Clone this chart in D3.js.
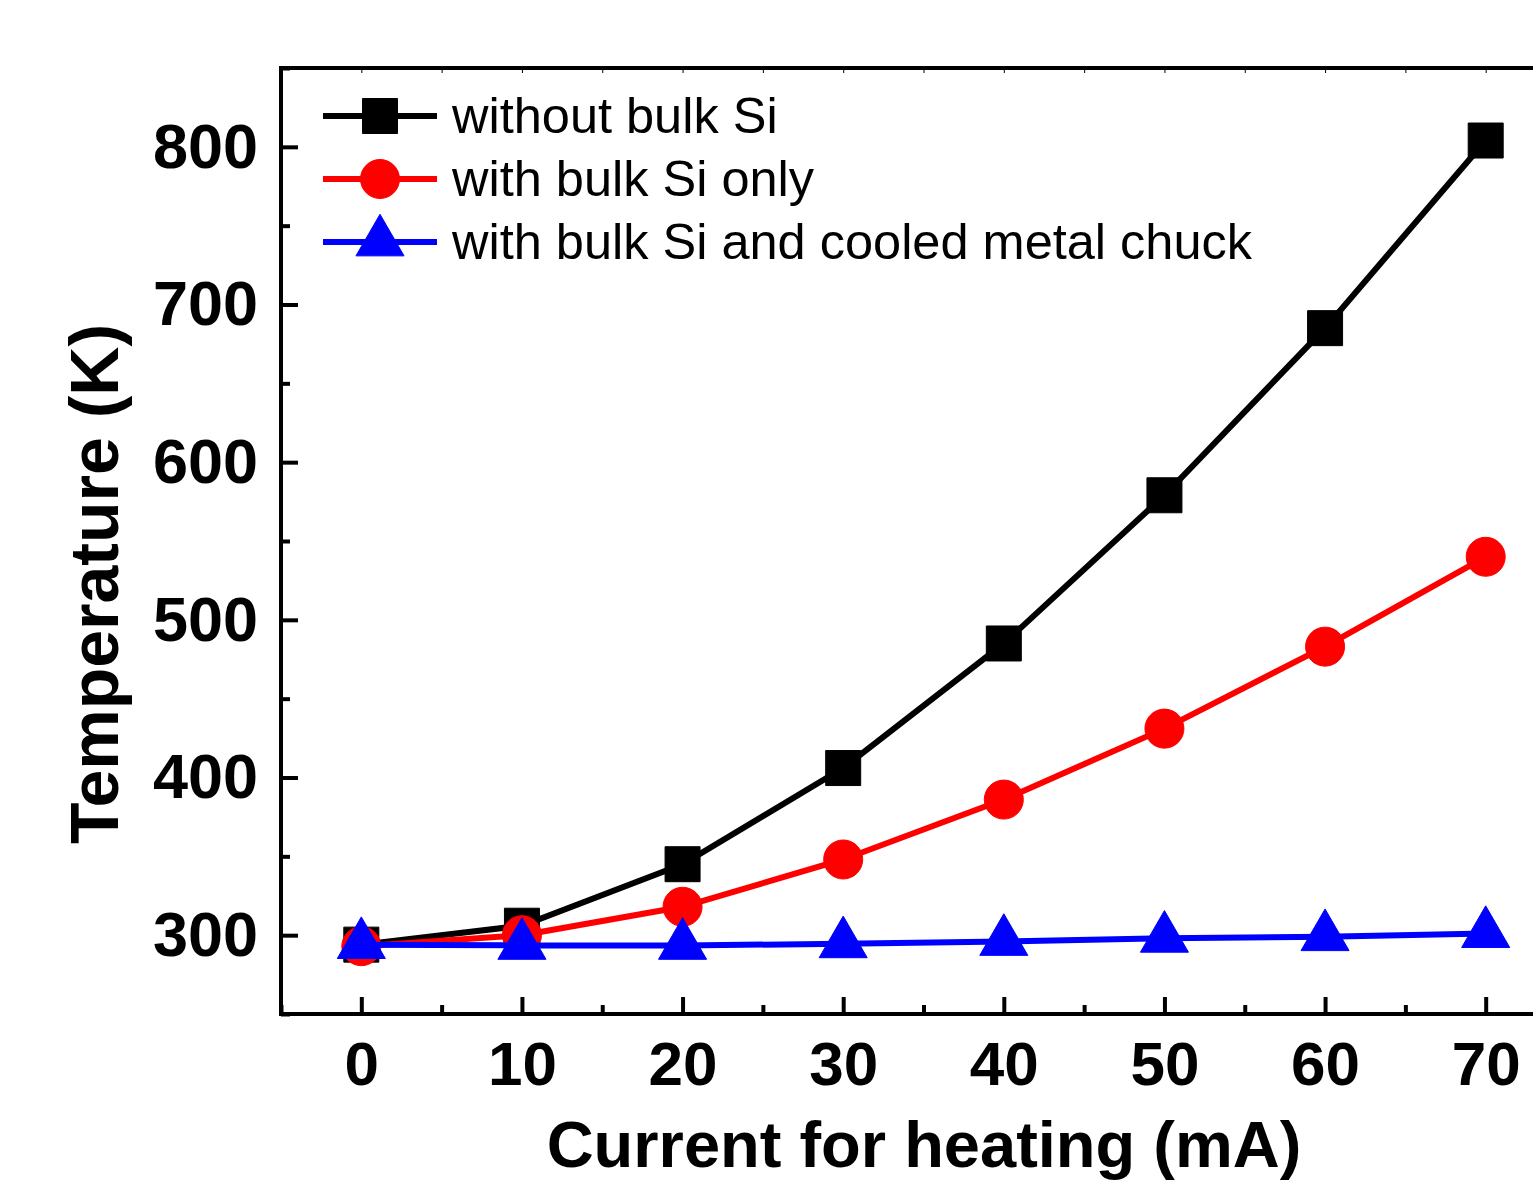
<!DOCTYPE html>
<html>
<head>
<meta charset="utf-8">
<script src="https://cdn.jsdelivr.net/npm/d3@7"></script>
<style>
  body { margin: 0; background: #fff; }
  text { font-family: "Liberation Sans", Arial, sans-serif; }
</style>
</head>
<body>
<div id="chart"></div>
<script>
// data
var current = [0, 10, 20, 30, 40, 50, 60, 70];
var withoutSi = [294, 306, 345, 406, 485, 579, 685, 804];
var withSiOnly = [293, 300, 318, 348, 386, 431, 483, 540];
var withSiChuck = [294, 293.5, 293.5, 294.5, 296, 298, 299, 301];

var xTicks = [0, 10, 20, 30, 40, 50, 60, 70];
var yTicks = [300, 400, 500, 600, 700, 800];

var seriesNames = ["without bulk Si", "with bulk Si only", "with bulk Si and cooled metal chuck"];
var seriesColors = ["#000000", "#ff0000", "#0000ff"];

var width = 1533, height = 1181;
var svg = d3.select("#chart").append("svg")
    .attr("width", width)
    .attr("height", height);

var x = d3.scaleLinear().domain([-5, 75]).range([281, 1566]);
var y = d3.scaleLinear().domain([250, 850]).range([1014, 68]);

var series = [
    {name: seriesNames[0], color: seriesColors[0], values: withoutSi, symbol: d3.symbolSquare, size: 1225},
    {name: seriesNames[1], color: seriesColors[1], values: withSiOnly, symbol: d3.symbolCircle, size: 1195},
    {name: seriesNames[2], color: seriesColors[2], values: withSiChuck, symbol: d3.symbolTriangle, size: 1000}
];

// minor ticks (every 5 mA / 50 K)
var xMinor = d3.range(-5, 76, 10);
var yMinor = d3.range(250, 851, 100);

function styleAxis(g) {
    g.select(".domain").remove();
    g.selectAll(".tick line").attr("stroke", "#000").attr("stroke-width", 4);
}

svg.append("g")
    .attr("transform", "translate(0,1014)")
    .call(d3.axisBottom(x).tickValues(xMinor).tickSize(-9).tickFormat(""))
    .call(styleAxis);
svg.append("g")
    .attr("transform", "translate(281,0)")
    .call(d3.axisLeft(y).tickValues(yMinor).tickSize(-9).tickFormat(""))
    .call(styleAxis);

var xAxis = svg.append("g")
    .attr("transform", "translate(0,1014)")
    .call(d3.axisBottom(x).tickValues(xTicks).tickSize(-17).tickPadding(27).tickFormat(d3.format("d")))
    .call(styleAxis);
xAxis.selectAll("text")
    .attr("fill", "#000")
    .style("font-size", "62px")
    .style("font-weight", "bold");

var yAxis = svg.append("g")
    .attr("transform", "translate(281,0)")
    .call(d3.axisLeft(y).tickValues(yTicks).tickSize(-17).tickPadding(23).tickFormat(d3.format("d")))
    .call(styleAxis);
yAxis.selectAll("text")
    .attr("fill", "#000")
    .style("font-size", "63px")
    .style("font-weight", "bold");

// thin ticks on the top edge
svg.append("g")
    .attr("transform", "translate(0,68)")
    .call(d3.axisTop(x).tickValues(xTicks.concat(xMinor)).tickSize(-5).tickFormat(""))
    .call(function (g) {
        g.select(".domain").remove();
        g.selectAll(".tick line").attr("stroke", "#000").attr("stroke-width", 1);
    });

// frame
svg.append("rect")
    .attr("x", 281)
    .attr("y", 68)
    .attr("width", 1566 - 281)
    .attr("height", 1014 - 68)
    .attr("fill", "none")
    .attr("stroke", "#000")
    .attr("stroke-width", 4);

// lines and markers
var line = d3.line()
    .x(function (d, i) { return x(current[i]); })
    .y(function (d) { return y(d); });

series.forEach(function (s) {
    var g = svg.append("g");
    g.append("path")
        .attr("d", line(s.values))
        .attr("fill", "none")
        .attr("stroke", s.color)
        .attr("stroke-width", 6);
    g.selectAll("path.mark")
        .data(s.values)
        .enter()
        .append("path")
        .attr("class", "mark")
        .attr("transform", function (d, i) { return "translate(" + x(current[i]) + "," + y(d) + ")"; })
        .attr("d", d3.symbol().type(s.symbol).size(s.size))
        .attr("fill", s.color)
        .attr("stroke", s.color)
        .attr("stroke-width", 1)
        .attr("stroke-linejoin", "round");
});

// legend
var legend = svg.append("g");
series.forEach(function (s, i) {
    var ly = 116 + i * 63;
    legend.append("line")
        .attr("x1", 323).attr("x2", 437)
        .attr("y1", ly).attr("y2", ly)
        .attr("stroke", s.color)
        .attr("stroke-width", 6);
    legend.append("path")
        .attr("transform", "translate(380," + ly + ")")
        .attr("d", d3.symbol().type(s.symbol).size(s.size))
        .attr("fill", s.color)
        .attr("stroke", s.color)
        .attr("stroke-width", 1)
        .attr("stroke-linejoin", "round");
    legend.append("text")
        .attr("x", 452)
        .attr("y", ly + 17)
        .style("font-size", "50.5px")
        .text(s.name);
});

// axis titles
svg.append("text")
    .attr("x", 924)
    .attr("y", 1167)
    .attr("text-anchor", "middle")
    .style("font-size", "65px")
    .style("font-weight", "bold")
    .text("Current for heating (mA)");

svg.append("text")
    .attr("transform", "translate(118,584) rotate(-90)")
    .attr("text-anchor", "middle")
    .style("font-size", "68px")
    .style("font-weight", "bold")
    .text("Temperature (K)");
</script>
</body>
</html>
